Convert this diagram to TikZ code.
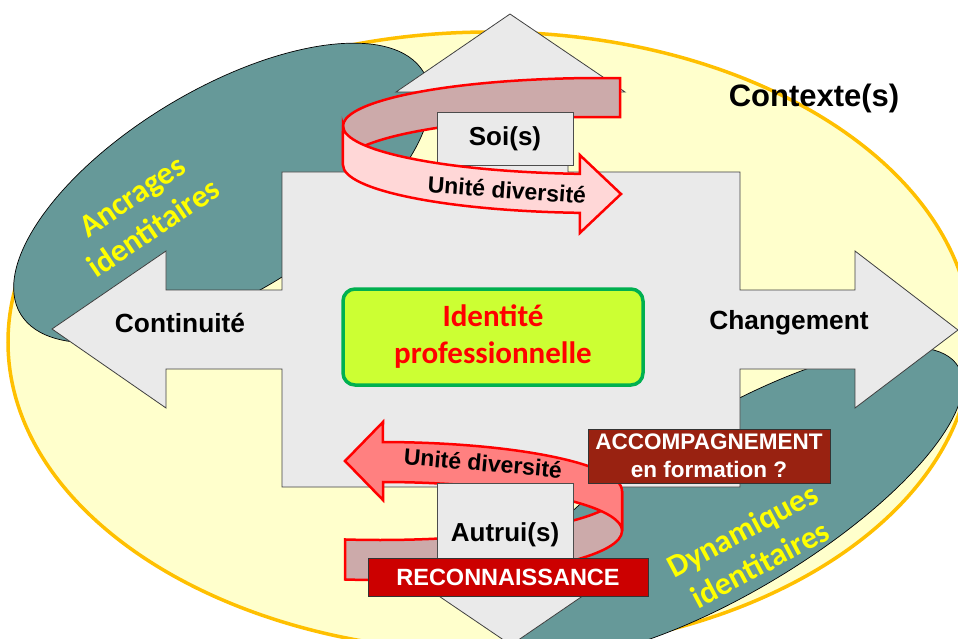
\documentclass[tikz,border=0pt]{standalone}
\usepackage{fontspec}
\setmainfont{Liberation Sans}
\newfontfamily\calfont{Carlito}
\newcommand\fsz[2]{\fontsize{#1}{#2}\selectfont}
\definecolor{ctxyellow}{RGB}{255,255,204}
\definecolor{ctxorange}{RGB}{255,192,0}
\definecolor{tealc}{RGB}{102,153,153}
\definecolor{crossgray}{RGB}{234,234,234}
\definecolor{rosy}{RGB}{204,170,170}
\definecolor{pinklight}{RGB}{255,215,215}
\definecolor{salmon}{RGB}{255,128,128}
\definecolor{recored}{RGB}{204,0,0}
\definecolor{accbrown}{RGB}{153,34,17}
\definecolor{idfill}{RGB}{204,255,51}
\definecolor{idborder}{RGB}{0,176,80}
\definecolor{txtyellow}{RGB}{255,255,0}
\tikzset{
  ctxshape/.style={fill=ctxyellow, draw=ctxorange, line width=3.5pt},
  tealblob/.style={fill=tealc, draw=black, line width=0.7pt},
  crossshape/.style={fill=crossgray, draw=black!75, line width=0.8pt, line join=miter},
  ribbonback/.style={fill=rosy, draw=red, line width=2.5pt, line join=miter},
  ribbonfront/.style={fill=pinklight, draw=red, line width=2.5pt, line join=miter},
  ribbonsalmon/.style={fill=salmon, draw=red, line width=2.5pt, line join=miter},
  graybox/.style={fill=crossgray, draw=black!70, line width=0.8pt, inner sep=0pt},
  redbox/.style={fill=recored, draw=black!80, line width=0.8pt, inner sep=0pt, text=white,
    font=\bfseries\fsz{23.5}{28}},
  brownbox/.style={fill=accbrown, draw=black!80, line width=0.8pt, inner sep=0pt, text=white,
    align=center, font=\bfseries\fsz{22.5}{28}},
  idbox/.style={fill=idfill, draw=idborder, line width=3.5pt, rounded corners=12pt, inner sep=0pt,
    text=red, align=center, font=\calfont\bfseries\fsz{31}{37}},
  axislabel/.style={font=\bfseries\fsz{26.3}{30}, anchor=base},
  ribbonlabel/.style={font=\bfseries\fsz{23}{27}},
  yellowlabel/.style={text=txtyellow, align=center, inner sep=0pt, font=\calfont\bfseries\fsz{32}{38}}
}
\begin{document}
\begin{tikzpicture}[x=1pt,y=-1pt]
\useasboundingbox (0,0) rectangle (958,639);
\clip (0,0) rectangle (958,639);
\fill[white] (0,0) rectangle (958,639);
% context ellipse
\draw[ctxshape] (490,342) ellipse [x radius=482pt, y radius=310pt];
% teal blobs
\draw[tealblob, rotate around={31:(222,193)}] (222,193) ellipse [x radius=235pt, y radius=103pt];
\draw[tealblob, rotate around={31:(731,503)}] (731,503) ellipse [x radius=265pt, y radius=88pt];
% four-way arrow
\draw[crossshape] (510,14) -- (625,92) -- (568,92) -- (568,172) -- (740,172) -- (740,290)
  -- (855,290) -- (855,251) -- (958,330) -- (855,408) -- (855,369) -- (740,369) -- (740,487)
  -- (568,487) -- (568,567) -- (625,567) -- (511,645) -- (396,567) -- (452,567) -- (452,487)
  -- (282,487) -- (282,369) -- (166,369) -- (166,408) -- (52,329) -- (166,251) -- (166,290)
  -- (282,290) -- (282,172) -- (452,172) -- (452,92) -- (396,92) -- cycle;
% yellow labels
\node[yellowlabel, rotate=34] (ancr) at (143,212) {Ancrages\\identitaires};
\node[yellowlabel, rotate=28] (dyna) at (751,547) {Dynamiques\\identitaires};
% top ribbon: back band
\draw[ribbonback] (620.2,78.15) arc[start angle=85.5, end angle=180, x radius=257pt, y radius=48pt]
  -- (343,165) arc[start angle=180, end angle=85.5, x radius=257pt, y radius=48pt] -- cycle;
% Soi box
\node[graybox, minimum width=136pt, minimum height=53pt, font=\bfseries\fsz{26}{30}] (soi) at (505,138.5) {Soi(s)};
% top ribbon: front band with arrow head
\draw[ribbonfront] (343,126) arc[start angle=180, end angle=265.5, x radius=257pt, y radius=48pt]
  -- (579.8,155) -- (621,194) -- (579.8,233) -- (579.8,212.85)
  arc[start angle=265.5, end angle=180, x radius=257pt, y radius=48pt] -- cycle;
\node[ribbonlabel, rotate=-4] (ud1) at (507,190) {Unité diversité};
% bottom ribbon: lower band
\draw[ribbonback] (622,491) arc[start angle=0, end angle=-98.3, x radius=242pt, y radius=49pt]
  -- (345.1,579.5) arc[start angle=-98.3, end angle=0, x radius=242pt, y radius=49pt] -- cycle;
% bottom ribbon: upper band with arrow head
\draw[ribbonsalmon] (622,491) arc[start angle=0, end angle=89.3, x radius=242pt, y radius=49pt]
  -- (383,422) -- (345,461) -- (383,500) -- (383,482)
  arc[start angle=89.3, end angle=0, x radius=242pt, y radius=49pt] -- cycle;
\node[ribbonlabel, rotate=-5] (ud2) at (483,463) {Unité diversité};
% Autrui box
\node[graybox, minimum width=136pt, minimum height=75pt] (autruibox) at (505,520.5) {};
\node[font=\bfseries\fsz{26}{30}, anchor=base] (autrui) at (505,541.7) {Autrui(s)};
% Reconnaissance
\node[redbox, minimum width=280pt, minimum height=38pt] (recon) at (508,577) {RECONNAISSANCE};
% Accompagnement
\node[brownbox, minimum width=242pt, minimum height=54pt] (accomp) at (709,456) {ACCOMPAGNEMENT\\en formation ?};
% central box
\node[idbox, minimum width=300pt, minimum height=96pt] (ident) at (493,337) {Identité\\professionnelle};
% axis labels
\node[axislabel] (cont) at (180,332) {Continuité};
\node[axislabel] (chg) at (789,329) {Changement};
\node[font=\bfseries\fsz{31}{36}, anchor=base] (ctx) at (814,107) {Contexte(s)};
\end{tikzpicture}
\end{document}
